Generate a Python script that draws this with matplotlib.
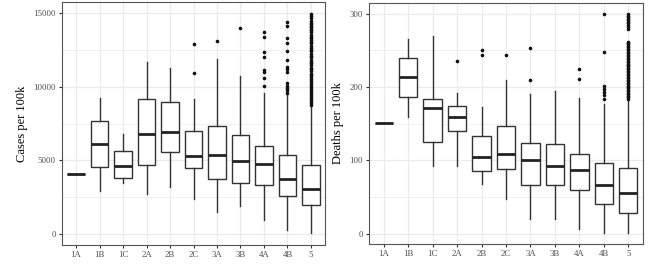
import matplotlib
matplotlib.use("Agg")
import matplotlib.pyplot as plt
from matplotlib.ticker import FixedLocator

plt.rcParams['font.family'] = ['Liberation Serif', 'DejaVu Serif']

categories = ["1A", "1B", "1C", "2A", "2B", "2C", "3A", "3B", "4A", "4B", "5"]

# Cases per 100k: (whislo, q1, med, q3, whishi)
cases_whislo = [4050, 2950, 3470, 2720, 3180, 2380, 1480, 1930, 930, 300, 70]
cases_q1     = [4050, 4540, 3810, 4670, 5580, 4470, 3770, 3490, 3360, 2560, 1950]
cases_med    = [4050, 6130, 4650, 6830, 6920, 5290, 5400, 4950, 4760, 3770, 3090]
cases_q3     = [4050, 7670, 5630, 9190, 8980, 7030, 7330, 6720, 6010, 5400, 4670]
cases_whishi = [4050, 9260, 6830, 11680, 11300, 9140, 11910, 10730, 9570, 9540, 8680]
cases_fliers = [
    [], [], [], [], [],
    [10960, 12890],
    [13140],
    [13980],
    [13720, 13380, 12360, 12020, 11130, 11000, 10590, 10040],
    [14390, 14150, 13300, 12950, 12450, 11820, 11320, 11200, 10980, 10230,
     10070, 9910, 9770, 9610],
    [14950, 14800, 14650, 14450, 14350, 14250, 14150, 14050, 13950, 13850,
     13700, 13550, 13400, 13300, 13200, 13050, 12950, 12800, 12650, 12500,
     12400, 12250, 12100, 12000, 11850, 11700, 11600, 11450, 11300, 11200,
     11050, 10900, 10800, 10650, 10500, 10400, 10250, 10100, 10000, 9850,
     9700, 9600, 9450, 9300, 9200, 9050, 8900, 8800],
]

# Deaths per 100k
deaths_whislo = [151, 159, 93, 93, 68, 48, 20, 20, 7, 1, 1]
deaths_q1     = [151, 186, 125, 140, 85, 88, 66, 66, 59, 40, 28]
deaths_med    = [151, 213, 172, 159, 105, 109, 101, 93, 87, 66, 56]
deaths_q3     = [151, 240, 183, 174, 133, 147, 123, 122, 108, 97, 90]
deaths_whishi = [151, 265, 269, 192, 173, 210, 191, 194, 185, 177, 183]
deaths_fliers = [
    [], [], [], [236], [250, 243], [243], [253, 209], [],
    [225, 211],
    [299, 248, 201, 197, 193, 189, 184],
    [299, 297, 295, 293, 291, 289, 287, 285, 282, 279,
     262, 260, 258, 256, 254, 252, 250, 248, 246, 244, 242, 240, 238, 236,
     234, 232, 230, 228, 226, 224, 222, 220, 218, 216, 214, 212, 210, 208,
     206, 204, 202, 200, 198, 196, 194, 192, 190, 188, 186, 184],
]

cases_ticks = [0, 5000, 10000, 15000]
cases_minor = [2500, 7500, 12500]
deaths_ticks = [0, 100, 200, 300]
deaths_minor = [50, 150, 250]


def make_stats(lo, q1, med, q3, hi, fl):
    return [dict(whislo=a, q1=b, med=c, q3=d, whishi=e, fliers=f)
            for a, b, c, d, e, f in zip(lo, q1, med, q3, hi, fl)]


fig = plt.figure(figsize=(6.5, 2.65), dpi=100)
ax1 = fig.add_axes([62/650, 20/265, 263/650, 243/265])
ax2 = fig.add_axes([369/650, 21/265, 274/650, 241/265])

edge = '#333333'
grid_c = '#ebebeb'


def draw(ax, stats, ylim, ticks, minor, ylabel):
    pos = list(range(1, len(categories) + 1))
    ax.bxp(stats, positions=pos, widths=0.75, patch_artist=True,
           boxprops=dict(facecolor='white', edgecolor=edge, linewidth=1.0),
           medianprops=dict(color='#222222', linewidth=2.0),
           whiskerprops=dict(color=edge, linewidth=1.0),
           capprops=dict(linewidth=0),
           flierprops=dict(marker='o', markersize=1.6, markerfacecolor='#111111',
                           markeredgecolor='#111111', linestyle='none'),
           showcaps=False, zorder=3)
    ax.set_xlim(0.4, len(categories) + 0.6)
    ax.set_ylim(*ylim)
    ax.set_xticks(pos)
    ax.set_xticklabels(categories)
    ax.set_yticks(ticks)
    ax.yaxis.set_minor_locator(FixedLocator(minor))
    ax.grid(True, which='major', color=grid_c, linewidth=0.9, zorder=0)
    ax.grid(True, which='minor', axis='y', color=grid_c, linewidth=0.5, zorder=0)
    ax.set_axisbelow(True)
    ax.tick_params(which='major', length=2.5, width=0.8, color=edge,
                   labelsize=6.3, labelcolor='#4d4d4d', pad=2)
    ax.tick_params(which='minor', length=0)
    for s in ax.spines.values():
        s.set_color('#555555')
        s.set_linewidth(0.8)
    ax.set_ylabel(ylabel, fontsize=9, color='black', labelpad=4)


draw(ax1, make_stats(cases_whislo, cases_q1, cases_med, cases_q3, cases_whishi, cases_fliers),
     (-740, 15760), cases_ticks, cases_minor, "Cases per 100k")
draw(ax2, make_stats(deaths_whislo, deaths_q1, deaths_med, deaths_q3, deaths_whishi, deaths_fliers),
     (-14, 314.5), deaths_ticks, deaths_minor, "Deaths per 100k")

fig.savefig("out.png", dpi=100)
